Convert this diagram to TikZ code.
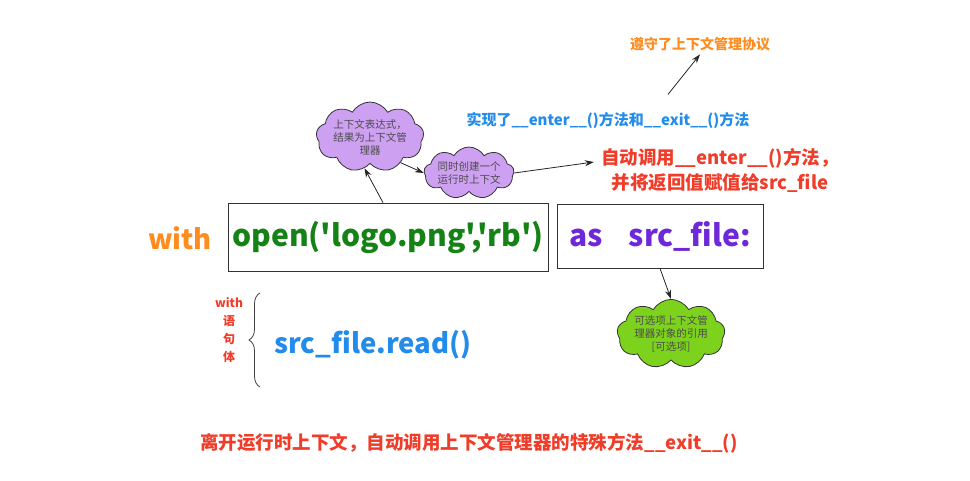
\documentclass[tikz,border=0pt]{standalone}
\usepackage{fontspec}
\setmainfont{Noto Sans CJK SC}[Ligatures=TeXOff]
\usetikzlibrary{arrows.meta,shapes,decorations.pathreplacing}
\definecolor{withorange}{RGB}{255,140,30}
\definecolor{codegreen}{RGB}{20,130,20}
\definecolor{aspurple}{RGB}{110,40,215}
\definecolor{methblue}{RGB}{35,140,235}
\definecolor{notered}{RGB}{240,60,40}
\definecolor{cloudpurple}{RGB}{205,160,242}
\definecolor{cloudgreen}{RGB}{125,210,30}

\begin{document}
\begin{tikzpicture}[
		x=1pt,y=-1pt,
		>={Stealth[length=9pt,width=6pt]},
		codebox/.style={
			draw=black!80,
			thick,
			inner sep=0pt,
			font=\fontsize{30}{32}\selectfont\bfseries
		},
		pointer/.style={
			->,
			thick,
			black!85
		},
		bubble/.style={
			cloud,
			cloud puffs=9,
			cloud puff arc=120,
			cloud ignores aspect,
			draw=black!80,
			thick,
			inner sep=0pt,
			align=center,
			text=black!70,
			font=\fontsize{10.5}{13}\selectfont
		},
		big/.style={
			font=\fontsize{27.5}{30}\selectfont\bfseries
		}
		]
		\useasboundingbox[fill=white] (0,0) rectangle (970,480);
		% top notes
		\node[text=withorange,font=\fontsize{14}{16}\selectfont\bfseries] (protocol) at (700,44) {遵守了上下文管理协议};
		\node[text=methblue,font=\fontsize{15}{17}\selectfont\bfseries] (impl) at (608,120) {实现了\_\_enter\_\_()方法和\_\_exit\_\_()方法};
		\node[text=notered,align=center,font=\fontsize{18.5}{25}\selectfont\bfseries] (enter) at (720,170) {自动调用\_\_enter\_\_()方法，\\ 并将返回值赋值给src\_file};
		% clouds
		\node[bubble,fill=cloudpurple,minimum width=106,minimum height=70] (expr) at (370,137) {上下文表达式，\\结果为上下文管\\理器};
		\node[bubble,fill=cloudpurple,minimum width=90,minimum height=52] (ctx) at (469,173) {同时创建一个\\运行时上下文};
		\node[bubble,fill=cloudgreen,minimum width=106,minimum height=68] (ref) at (671,334) {可选项上下文管\\理器对象的引用\\{[}可选项{]}};
		% with statement
		\node[big,text=withorange] (with) at (180,238) {with};
		\node[codebox,text=codegreen,minimum width=320,minimum height=68] (code) at (388,237) {open('logo.png','rb')};
		\node[codebox,text=aspurple,minimum width=206,minimum height=64] (asbox) at (660,236) {as\hspace{26pt}src\_file:};
		% body
		\node[text=notered,align=center,font=\fontsize{12}{18}\selectfont\bfseries] (body) at (229,330) {with\\语\\句\\体};
		\draw[thick,black!75,decorate,decoration={brace,amplitude=11pt}] (260,387) -- (260,293);
		\node[big,text=methblue] (read) at (373,345) {src\_file.read()};
		\node[text=notered,font=\fontsize{18.5}{20}\selectfont\bfseries] (exit) at (469,443) {离开运行时上下文，自动调用上下文管理器的特殊方法\_\_exit\_\_()};
		% arrows
		\draw[pointer] ([xshift=-5pt]code.north) -- (expr.-100);
		\draw[pointer] (expr.-40) -- (ctx.west);
		\draw[pointer] (ctx.east) -- ([xshift=-4pt,yshift=8pt]enter.west);
		\draw[pointer] ([xshift=60pt,yshift=14pt]impl.north) -- (protocol.south);
		\draw[pointer] (asbox.south) -- (ref.north);
\end{tikzpicture}
\end{document}
